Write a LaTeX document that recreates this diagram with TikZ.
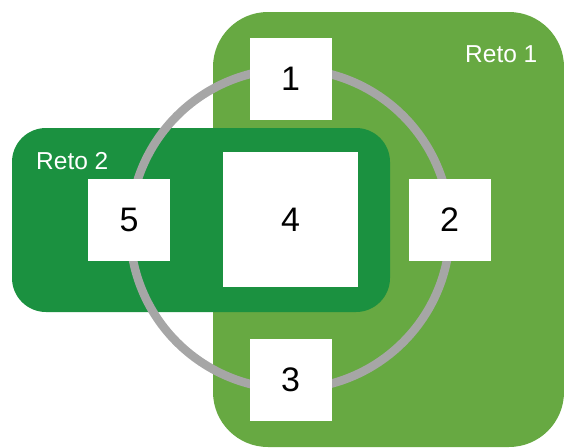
\documentclass[tikz,border=0pt]{standalone}
\usepackage{fontspec}
\setmainfont{Liberation Sans}
\definecolor{retoA}{HTML}{67A942}
\definecolor{retoB}{HTML}{1B9140}
\definecolor{ringgray}{HTML}{A6A6A6}
\tikzset{
  numbox/.style={fill=white, draw=none, inner sep=0pt, minimum width=82pt, minimum height=82pt, font=\fontsize{34}{34}\selectfont, text=black},
  bigbox/.style={numbox, minimum width=135pt, minimum height=135pt},
  retolabel/.style={anchor=base west, inner sep=0pt, text=white, font=\fontsize{24.5}{25}\selectfont},
}
\begin{document}
\begin{tikzpicture}[x=1pt, y=-1pt]
\useasboundingbox (0,0) rectangle (564,447);
\fill[retoA, rounded corners=55pt] (213,12) rectangle (564,447);
\fill[retoB, rounded corners=34pt] (12,128) rectangle (390,312);
\node[retolabel] (r1) at (465,62) {Reto 1};
\node[retolabel] (r2) at (36,169) {Reto 2};
\node[circle, draw=ringgray, line width=8.5pt, minimum size=320pt, inner sep=0pt] (ring) at (290,229) {};
\node[numbox] (b1) at (290.5,79) {1};
\node[numbox] (b2) at (449.5,220) {2};
\node[numbox] (b3) at (290.5,380) {3};
\node[bigbox] (b4) at (290.5,219.5) {4};
\node[numbox] (b5) at (129,220) {5};
\end{tikzpicture}
\end{document}
